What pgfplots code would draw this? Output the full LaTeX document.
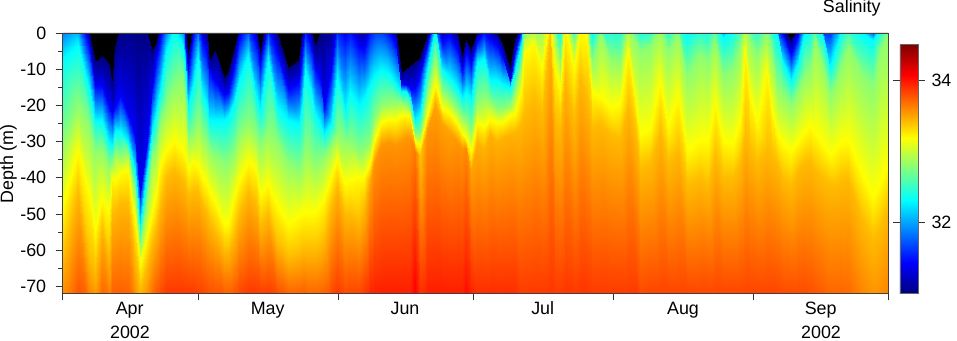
\documentclass[border=0pt]{standalone}
\usepackage{pgfplots}
\usepackage{fontspec}
\setmainfont{Liberation Sans}
\pgfplotsset{compat=1.18}
\begin{document}
\begin{tikzpicture}[font=\fontsize{13.4}{15}\selectfont]
\path[use as bounding box] (0pt,0pt) rectangle (717.75pt,-255.75pt);

% data: each line is one day (x), then the depth (y) of seven salinity levels (z)
\begin{axis}[
    at={(46.875pt,-220.125pt)},
    anchor=south west,
    scale only axis,
    width=619.5pt,
    height=195.4pt,
    view={0}{90},
    xmin=0,xmax=183,
    ymin=-72,ymax=0,
    axis background/.style={fill=black},
    axis line style={black!75,line width=0.4pt},
    xtick={0,30,61,91,122,153,183},
    xticklabels={},
    ytick={0,-10,-20,-30,-40,-50,-60,-70},
    yticklabels={0,-10,-20,-30,-40,-50,-60,-70},
    minor y tick num=1,
    tick align=outside,
    tickpos=left,
    major tick length=5.2pt,
    minor tick length=3pt,
    tick style={black!80,line width=0.4pt},
    y tick label style={xshift=-3.5pt},
    colormap/jet,
    point meta min=31,
    point meta max=34.5,
    colorbar,
    colorbar style={
        at={([xshift=20.6pt]parent axis.south east)},
        anchor=south west,
        width=13.5pt,
        height=186.75pt,
        scale only axis,
        ytick={32,34},
        yticklabels={32,34},
        major tick length=5.2pt,
        tick align=outside,
        y tick label style={xshift=1.5pt},
        tick style={black!80,line width=0.4pt},
        axis line style={black!60,line width=0.4pt},
    },
]
\addplot3[surf,shader=interp,mesh/rows=7,mesh/ordering=y varies] coordinates {
(0,12,31)(0,8,31.4)(0,-7,32.3)(0,-30,32.8)(0,-48,33.2)(0,-62,33.42)(0,-90,33.9)
(3.5,12,31)(3.5,8,31.4)(3.5,-3,32.3)(3.5,-20,32.8)(3.5,-33,33.2)(3.5,-44,33.42)(3.5,-82,33.9)
(5.8,0,31)(5.8,-3,31.4)(5.8,-15,32.3)(5.8,-26,32.8)(5.8,-45,33.2)(5.8,-62,33.42)(5.8,-88,33.9)
(7.2,-8,31)(7.2,-14,31.4)(7.2,-24,32.3)(7.2,-33,32.8)(7.2,-55,33.2)(7.2,-66,33.42)(7.2,-90,33.9)
(8.7,-6.5,31)(8.7,-14,31.4)(8.7,-24,32.3)(8.7,-32,32.8)(8.7,-46,33.2)(8.7,-54,33.42)(8.7,-84,33.9)
(10.2,-8.7,31)(10.2,-20,31.4)(10.2,-30,32.3)(10.2,-37,32.8)(10.2,-50,33.2)(10.2,-62,33.42)(10.2,-86,33.9)
(10.9,-15,31)(10.9,-22,31.4)(10.9,-31,32.3)(10.9,-36,32.8)(10.9,-40,33.2)(10.9,-50,33.42)(10.9,-84,33.9)
(11.7,-4,31)(11.7,-20,31.4)(11.7,-27,32.3)(11.7,-33,32.8)(11.7,-41,33.2)(11.7,-49,33.42)(11.7,-84,33.9)
(12.8,1,31)(12.8,-17,31.4)(12.8,-27,32.3)(12.8,-34,32.8)(12.8,-39,33.2)(12.8,-47,33.42)(12.8,-84,33.9)
(14.6,3,31)(14.6,-22,31.4)(14.6,-30,32.3)(14.6,-33,32.8)(14.6,-38,33.2)(14.6,-47,33.42)(14.6,-86,33.9)
(16,2,31)(16,-28,31.4)(16,-38,32.3)(16,-44,32.8)(16,-52,33.2)(16,-62,33.42)(16,-95,33.9)
(17.2,1,31)(17.2,-44,31.4)(17.2,-53,32.3)(17.2,-59,32.8)(17.2,-64,33.2)(17.2,-71,33.42)(17.2,-105,33.9)
(18.7,0,31)(18.7,-30,31.4)(18.7,-38,32.3)(18.7,-46,32.8)(18.7,-56,33.2)(18.7,-64,33.42)(18.7,-92,33.9)
(19.8,-5,31)(19.8,-15,31.4)(19.8,-27,32.3)(19.8,-34,32.8)(19.8,-50,33.2)(19.8,-58,33.42)(19.8,-84,33.9)
(20.8,-3,31)(20.8,-7,31.4)(20.8,-22,32.3)(20.8,-32,32.8)(20.8,-45,33.2)(20.8,-54,33.42)(20.8,-80,33.9)
(21.6,2,31)(21.6,-1,31.4)(21.6,-16,32.3)(21.6,-25,32.8)(21.6,-37,33.2)(21.6,-48,33.42)(21.6,-78,33.9)
(23,10,31)(23,6,31.4)(23,-5,32.3)(23,-20,32.8)(23,-33,33.2)(23,-40,33.42)(23,-74,33.9)
(24.6,20,31)(24.6,14,31.4)(24.6,1,32.3)(24.6,-15,32.8)(24.6,-30,33.2)(24.6,-38,33.42)(24.6,-74,33.9)
(26.8,12,31)(26.8,6,31.4)(26.8,-4,32.3)(26.8,-13,32.8)(26.8,-33,33.2)(26.8,-41,33.42)(26.8,-74,33.9)
(27.2,2,31)(27.2,-1,31.4)(27.2,-8,32.3)(27.2,-18,32.8)(27.2,-34,33.2)(27.2,-42,33.42)(27.2,-74,33.9)
(27.9,-7,31)(27.9,-10,31.4)(27.9,-20,32.3)(27.9,-29,32.8)(27.9,-38,33.2)(27.9,-45,33.42)(27.9,-74,33.9)
(28.9,2,31)(28.9,0,31.4)(28.9,-14,32.3)(28.9,-28,32.8)(28.9,-36,33.2)(28.9,-44,33.42)(28.9,-74,33.9)
(30.1,10,31)(30.1,6,31.4)(30.1,-6,32.3)(30.1,-24,32.8)(30.1,-37,33.2)(30.1,-44,33.42)(30.1,-76,33.9)
(31,2,31)(31,-1,31.4)(31,-16,32.3)(31,-28,32.8)(31,-40,33.2)(31,-47,33.42)(31,-76,33.9)
(32,0,31)(32,-5,31.4)(32,-20,32.3)(32,-30,32.8)(32,-42,33.2)(32,-50,33.42)(32,-78,33.9)
(32.5,-8,31)(32.5,-10,31.4)(32.5,-24,32.3)(32.5,-32,32.8)(32.5,-44,33.2)(32.5,-52,33.42)(32.5,-78,33.9)
(33.8,-5,31)(33.8,-13,31.4)(33.8,-24,32.3)(33.8,-34,32.8)(33.8,-47,33.2)(33.8,-55,33.42)(33.8,-78,33.9)
(35.7,-12.4,31)(35.7,-17,31.4)(35.7,-24,32.3)(35.7,-36,32.8)(35.7,-53,33.2)(35.7,-60,33.42)(35.7,-78,33.9)
(36.7,-11,31)(36.7,-16,31.4)(36.7,-23,32.3)(36.7,-36,32.8)(36.7,-53,33.2)(36.7,-60,33.42)(36.7,-78,33.9)
(37.9,-5,31)(37.9,-9,31.4)(37.9,-19,32.3)(37.9,-33,32.8)(37.9,-46,33.2)(37.9,-56,33.42)(37.9,-78,33.9)
(39,1,31)(39,-1,31.4)(39,-13,32.3)(39,-28,32.8)(39,-41,33.2)(39,-50,33.42)(39,-76,33.9)
(41.2,8,31)(41.2,4,31.4)(41.2,-6,32.3)(41.2,-25,32.8)(41.2,-36,33.2)(41.2,-44,33.42)(41.2,-74,33.9)
(42.8,1,31)(42.8,-2,31.4)(42.8,-17,32.3)(42.8,-28,32.8)(42.8,-38,33.2)(42.8,-47,33.42)(42.8,-74,33.9)
(43.8,-6,31)(43.8,-8,31.4)(43.8,-21,32.3)(43.8,-31,32.8)(43.8,-45,33.2)(43.8,-53,33.42)(43.8,-74,33.9)
(45.6,7,31)(45.6,3,31.4)(45.6,-7,32.3)(45.6,-27,32.8)(45.6,-42,33.2)(45.6,-50,33.42)(45.6,-74,33.9)
(47.5,0,31)(47.5,-5,31.4)(47.5,-20,32.3)(47.5,-30,32.8)(47.5,-48,33.2)(47.5,-58,33.42)(47.5,-76,33.9)
(50,-9.7,31)(50,-15,31.4)(50,-24,32.3)(50,-36,32.8)(50,-53,33.2)(50,-62,33.42)(50,-78,33.9)
(52.3,-7.5,31)(52.3,-13,31.4)(52.3,-25,32.3)(52.3,-38,32.8)(52.3,-51,33.2)(52.3,-61,33.42)(52.3,-78,33.9)
(53,0,31)(53,-5,31.4)(53,-20,32.3)(53,-36,32.8)(53,-50,33.2)(53,-60,33.42)(53,-78,33.9)
(53.8,6,31)(53.8,2,31.4)(53.8,-10,32.3)(53.8,-32,32.8)(53.8,-50,33.2)(53.8,-60,33.42)(53.8,-78,33.9)
(55,1,31)(55,-3,31.4)(55,-16,32.3)(55,-34,32.8)(55,-50,33.2)(55,-60,33.42)(55,-80,33.9)
(56,-4,31)(56,-9,31.4)(56,-22,32.3)(56,-36,32.8)(56,-50,33.2)(56,-60,33.42)(56,-80,33.9)
(57,0,31)(57,-12,31.4)(57,-25,32.3)(57,-35,32.8)(57,-48,33.2)(57,-59,33.42)(57,-80,33.9)
(58,1,31)(58,-20,31.4)(58,-28,32.3)(58,-34,32.8)(58,-46,33.2)(58,-57,33.42)(58,-80,33.9)
(59.5,2,31)(59.5,-10,31.4)(59.5,-25,32.3)(59.5,-31,32.8)(59.5,-40,33.2)(59.5,-48,33.42)(59.5,-78,33.9)
(60.9,8,31)(60.9,4,31.4)(60.9,-12,32.3)(60.9,-28,32.8)(60.9,-35,33.2)(60.9,-42,33.42)(60.9,-74,33.9)
(62.5,3,31)(62.5,0,31.4)(62.5,-21,32.3)(62.5,-30,32.8)(62.5,-42,33.2)(62.5,-50,33.42)(62.5,-78,33.9)
(63.8,6,31)(63.8,2,31.4)(63.8,-16,32.3)(63.8,-30,32.8)(63.8,-41,33.2)(63.8,-50,33.42)(63.8,-76,33.9)
(65.6,2,31)(65.6,-3,31.4)(65.6,-20,32.3)(65.6,-33,32.8)(65.6,-40,33.2)(65.6,-52,33.42)(65.6,-76,33.9)
(66.8,2,31)(66.8,-4,31.4)(66.8,-18,32.3)(66.8,-32,32.8)(66.8,-40,33.2)(66.8,-48,33.42)(66.8,-76,33.95)
(68.2,6,31)(68.2,2,31.4)(68.2,-14,32.3)(68.2,-30,32.8)(68.2,-36,33.2)(68.2,-41,33.5)(68.2,-76,34)
(69,8,31)(69,4,31.4)(69,-12,32.3)(69,-24,32.8)(69,-30,33.2)(69,-36,33.55)(69,-76,34)
(70.5,8,31)(70.5,4,31.4)(70.5,-10,32.3)(70.5,-20,32.8)(70.5,-25,33.2)(70.5,-31,33.55)(70.5,-76,34)
(72.3,4,31)(72.3,1,31.4)(72.3,-11,32.3)(72.3,-19,32.8)(72.3,-24,33.2)(72.3,-30,33.55)(72.3,-76,34)
(73.8,0,31)(73.8,-3,31.4)(73.8,-14,32.3)(73.8,-19,32.8)(73.8,-24,33.2)(73.8,-31,33.55)(73.8,-76,34)
(74.9,-11,31)(74.9,-14,31.4)(74.9,-16,32.3)(74.9,-19,32.8)(74.9,-23,33.2)(74.9,-30,33.55)(74.9,-76,34)
(76,-10,31)(76,-14,31.4)(76,-16,32.3)(76,-20,32.8)(76,-23,33.2)(76,-29,33.55)(76,-76,34)
(77.1,-9,31)(77.1,-15,31.4)(77.1,-18,32.3)(77.1,-21,32.8)(77.1,-23,33.2)(77.1,-29,33.55)(77.1,-76,34)
(78.2,-8,31)(78.2,-15,31.4)(78.2,-24,32.3)(78.2,-28,32.8)(78.2,-30,33.2)(78.2,-33,33.65)(78.2,-74,34.1)
(79.3,-7,31)(79.3,-11,31.4)(79.3,-22,32.3)(79.3,-28,32.8)(79.3,-31,33.2)(79.3,-34,33.4)(79.3,-76,33.95)
(80.8,-1,31)(80.8,-3,31.4)(80.8,-10,32.3)(80.8,-17,32.8)(80.8,-23,33.2)(80.8,-27,33.55)(80.8,-76,34)
(82.6,8,31)(82.6,5,31.4)(82.6,1,32.3)(82.6,-7,32.8)(82.6,-14,33.2)(82.6,-20,33.5)(82.6,-76,34)
(84.1,1,31)(84.1,-2,31.4)(84.1,-10,32.3)(84.1,-16,32.8)(84.1,-21,33.2)(84.1,-25,33.5)(84.1,-76,34)
(85.6,3,31)(85.6,0,31.4)(85.6,-12,32.3)(85.6,-18,32.8)(85.6,-22,33.2)(85.6,-27,33.5)(85.6,-76,34)
(87.4,0,31)(87.4,-4,31.4)(87.4,-15,32.3)(87.4,-21,32.8)(87.4,-25,33.2)(87.4,-30,33.55)(87.4,-76,34)
(88.5,-7,31)(88.5,-10,31.4)(88.5,-18,32.3)(88.5,-23,32.8)(88.5,-28,33.2)(88.5,-32,33.55)(88.5,-76,34)
(89.4,-2,31)(89.4,-5,31.4)(89.4,-16,32.3)(89.4,-24,32.8)(89.4,-29,33.2)(89.4,-32,33.6)(89.4,-74,34.05)
(90.4,-5,31)(90.4,-8,31.4)(90.4,-18,32.3)(90.4,-27,32.8)(90.4,-33,33.2)(90.4,-38,33.5)(90.4,-76,34)
(91.9,0,31)(91.9,-2,31.4)(91.9,-8,32.3)(91.9,-19,32.8)(91.9,-25,33.2)(91.9,-30,33.45)(91.9,-76,33.95)
(93.3,4,31)(93.3,1,31.4)(93.3,-7,32.3)(93.3,-18,32.8)(93.3,-26,33.2)(93.3,-32,33.45)(93.3,-76,33.95)
(94.8,1,31)(94.8,-1,31.4)(94.8,-13,32.3)(94.8,-19,32.8)(94.8,-24,33.2)(94.8,-28,33.45)(94.8,-76,33.95)
(96.3,0,31)(96.3,-3,31.4)(96.3,-13,32.3)(96.3,-21,32.8)(96.3,-25,33.2)(96.3,-30,33.45)(96.3,-76,33.95)
(97.4,-3,31)(97.4,-6,31.4)(97.4,-14,32.3)(97.4,-21,32.8)(97.4,-25,33.2)(97.4,-29,33.45)(97.4,-76,33.95)
(99.1,-10,31)(99.1,-13,31.4)(99.1,-15,32.3)(99.1,-20,32.8)(99.1,-23,33.2)(99.1,-28,33.45)(99.1,-76,33.95)
(100.3,-2,31)(100.3,-5,31.4)(100.3,-10,32.3)(100.3,-16,32.8)(100.3,-22,33.2)(100.3,-28,33.45)(100.3,-76,33.95)
(101.5,2,31)(101.5,1,31.4)(101.5,-3,32.3)(101.5,-9,32.8)(101.5,-16,33.2)(101.5,-25,33.42)(101.5,-76,33.9)
(102.2,10,31)(102.2,8,31.4)(102.2,5,32.3)(102.2,0,32.8)(102.2,-6,33.2)(102.2,-22,33.42)(102.2,-76,33.9)
(104.4,12,31)(104.4,10,31.4)(104.4,7,32.3)(104.4,2,32.8)(104.4,-3,33.2)(104.4,-18,33.42)(104.4,-76,33.9)
(106.2,10,31)(106.2,8,31.4)(106.2,6,32.3)(106.2,2,32.8)(106.2,-10,33.2)(106.2,-22,33.42)(106.2,-76,33.9)
(108.1,18,31)(108.1,16,31.4)(108.1,14,32.3)(108.1,9,32.8)(108.1,5,33.2)(108.1,-1,33.42)(108.1,-74,33.9)
(109.2,10,31)(109.2,8,31.4)(109.2,5,32.3)(109.2,0,32.8)(109.2,-10,33.2)(109.2,-24,33.42)(109.2,-76,33.9)
(110.3,6,31)(110.3,4,31.4)(110.3,1,32.3)(110.3,-8,32.8)(110.3,-16,33.2)(110.3,-26,33.42)(110.3,-76,33.9)
(111.4,14,31)(111.4,12,31.4)(111.4,10,32.3)(111.4,8,32.8)(111.4,2,33.2)(111.4,-12,33.42)(111.4,-74,33.9)
(113.3,8,31)(113.3,6,31.4)(113.3,3,32.3)(113.3,-3,32.8)(113.3,-10,33.2)(113.3,-24,33.42)(113.3,-76,33.9)
(114.7,12,31)(114.7,10,31.4)(114.7,8,32.3)(114.7,4,32.8)(114.7,0,33.2)(114.7,-12,33.42)(114.7,-74,33.9)
(116.2,12,31)(116.2,10,31.4)(116.2,7,32.3)(116.2,3,32.8)(116.2,-1,33.2)(116.2,-18,33.42)(116.2,-74,33.9)
(117.3,6,31)(117.3,4,31.4)(117.3,0,32.3)(117.3,-8,32.8)(117.3,-17,33.2)(117.3,-26,33.42)(117.3,-76,33.9)
(119.2,8,31)(119.2,6,31.4)(119.2,3,32.3)(119.2,0,32.8)(119.2,-18,33.2)(119.2,-25,33.42)(119.2,-76,33.9)
(121.4,8,31)(121.4,6,31.4)(121.4,3,32.3)(121.4,-7,32.8)(121.4,-21,33.2)(121.4,-28,33.42)(121.4,-76,33.9)
(123.6,8,31)(123.6,6,31.4)(123.6,3,32.3)(123.6,-8,32.8)(123.6,-20,33.2)(123.6,-29,33.42)(123.6,-76,33.9)
(125.4,10,31)(125.4,8,31.4)(125.4,5,32.3)(125.4,3,32.8)(125.4,-5,33.2)(125.4,-20,33.42)(125.4,-76,33.9)
(127.3,8,31)(127.3,6,31.4)(127.3,3,32.3)(127.3,-3,32.8)(127.3,-22,33.2)(127.3,-30,33.42)(127.3,-76,33.9)
(128,7,31)(128,4,31.4)(128,1,32.3)(128,-5,32.8)(128,-28.5,33.2)(128,-37,33.42)(128,-76,33.85)
(130.2,8,31)(130.2,5,31.4)(130.2,2,32.3)(130.2,-4,32.8)(130.2,-27,33.2)(130.2,-36,33.42)(130.2,-74,33.85)
(132.4,14,31)(132.4,11,31.4)(132.4,8,32.3)(132.4,2,32.8)(132.4,-14,33.2)(132.4,-27,33.42)(132.4,-74,33.85)
(134.2,8,31)(134.2,5,31.4)(134.2,2,32.3)(134.2,-5,32.8)(134.2,-26,33.2)(134.2,-36,33.42)(134.2,-74,33.85)
(136.4,11,31)(136.4,8,31.4)(136.4,5,32.3)(136.4,0,32.8)(136.4,-18,33.2)(136.4,-32,33.42)(136.4,-74,33.85)
(138.3,6,31)(138.3,3,31.4)(138.3,0,32.3)(138.3,-12,32.8)(138.3,-33,33.2)(138.3,-42,33.42)(138.3,-74,33.85)
(141.3,9,31)(141.3,6,31.4)(141.3,3,32.3)(141.3,-6,32.8)(141.3,-30,33.2)(141.3,-40,33.42)(141.3,-74,33.85)
(143,8,31)(143,5,31.4)(143,2,32.3)(143,-8,32.8)(143,-30,33.2)(143,-42,33.42)(143,-74,33.85)
(144.6,11,31)(144.6,8,31.4)(144.6,5,32.3)(144.6,-2,32.8)(144.6,-20,33.2)(144.6,-34,33.42)(144.6,-74,33.85)
(146.4,5,31)(146.4,2,31.4)(146.4,-1,32.3)(146.4,-12,32.8)(146.4,-30,33.2)(146.4,-40,33.42)(146.4,-74,33.85)
(148.6,8,31)(148.6,5,31.4)(148.6,2,32.3)(148.6,-10,32.8)(148.6,-31,33.2)(148.6,-40,33.42)(148.6,-74,33.85)
(150.1,10,31)(150.1,7,31.4)(150.1,4,32.3)(150.1,-4,32.8)(150.1,-25,33.2)(150.1,-36,33.42)(150.1,-74,33.85)
(151.2,16,31)(151.2,13,31.4)(151.2,10,32.3)(151.2,4,32.8)(151.2,-5,33.2)(151.2,-28,33.42)(151.2,-74,33.85)
(152.3,11,31)(152.3,8,31.4)(152.3,5,32.3)(152.3,-2,32.8)(152.3,-18,33.2)(152.3,-32,33.42)(152.3,-74,33.85)
(153.8,9,31)(153.8,6,31.4)(153.8,3,32.3)(153.8,-6,32.8)(153.8,-25,33.2)(153.8,-36,33.42)(153.8,-74,33.85)
(156,14,31)(156,11,31.4)(156,8,32.3)(156,0,32.8)(156,-11,33.2)(156,-32,33.42)(156,-74,33.85)
(157.1,10,31)(157.1,7,31.4)(157.1,4,32.3)(157.1,-6,32.8)(157.1,-22,33.2)(157.1,-34,33.42)(157.1,-74,33.85)
(158.2,5,31)(158.2,3,31.4)(158.2,0,32.3)(158.2,-15,32.8)(158.2,-28,33.2)(158.2,-36,33.42)(158.2,-74,33.85)
(159.7,1,31)(159.7,0,31.4)(159.7,-8,32.3)(159.7,-17,32.8)(159.7,-31,33.2)(159.7,-40,33.42)(159.7,-76,33.85)
(161.4,-2,31)(161.4,-5.5,31.4)(161.4,-13,32.3)(161.4,-20,32.8)(161.4,-33,33.2)(161.4,-42,33.42)(161.4,-76,33.85)
(163,1,31)(163,0,31.4)(163,-8,32.3)(163,-16,32.8)(163,-30,33.2)(163,-38,33.42)(163,-76,33.85)
(164.2,4,31)(164.2,3,31.4)(164.2,0,32.3)(164.2,-12,32.8)(164.2,-28,33.2)(164.2,-36,33.42)(164.2,-76,33.85)
(165.6,7,31)(165.6,4,31.4)(165.6,1,32.3)(165.6,-10,32.8)(165.6,-26,33.2)(165.6,-35,33.42)(165.6,-78,33.85)
(166.7,9,31)(166.7,6,31.4)(166.7,3,32.3)(166.7,-2,32.8)(166.7,-28,33.2)(166.7,-38,33.42)(166.7,-80,33.85)
(168.2,6,31)(168.2,3,31.4)(168.2,0,32.3)(168.2,-8,32.8)(168.2,-31,33.2)(168.2,-40,33.42)(168.2,-82,33.85)
(170.1,5,31)(170.1,3,31.4)(170.1,-9,32.3)(170.1,-17,32.8)(170.1,-34,33.2)(170.1,-42,33.42)(170.1,-86,33.85)
(171.5,8,31)(171.5,6,31.4)(171.5,-3,32.3)(171.5,-13,32.8)(171.5,-32,33.2)(171.5,-42,33.42)(171.5,-86,33.85)
(172.3,6,31)(172.3,3,31.4)(172.3,0,32.3)(172.3,-10,32.8)(172.3,-31,33.2)(172.3,-41,33.42)(172.3,-86,33.85)
(174.1,10,31)(174.1,7,31.4)(174.1,4,32.3)(174.1,-4,32.8)(174.1,-30,33.2)(174.1,-40,33.42)(174.1,-88,33.85)
(177.4,6,31)(177.4,3,31.4)(177.4,0,32.3)(177.4,-12,32.8)(177.4,-40,33.2)(177.4,-52,33.42)(177.4,-100,33.85)
(179.6,4,31)(179.6,1,31.4)(179.6,-2,32.3)(179.6,-15,32.8)(179.6,-46,33.2)(179.6,-57,33.42)(179.6,-105,33.85)
(181.1,8,31)(181.1,5,31.4)(181.1,2,32.3)(181.1,-5,32.8)(181.1,-42,33.2)(181.1,-54,33.42)(181.1,-105,33.85)
(183,11,31)(183,8,31.4)(183,5,32.3)(183,0,32.8)(183,-37,33.2)(183,-48,33.42)(183,-100,33.85)
};
\end{axis}

\node[anchor=base] at (97.3pt,-236.25pt) {Apr};
\node[anchor=base] at (200.8pt,-236.25pt) {May};
\node[anchor=base] at (303.75pt,-236.25pt) {Jun};
\node[anchor=base] at (407pt,-236.25pt) {Jul};
\node[anchor=base] at (512.25pt,-236.25pt) {Aug};
\node[anchor=base] at (615.5pt,-236.25pt) {Sep};
\node[anchor=base] at (97.5pt,-254.25pt) {2002};
\node[anchor=base] at (615.75pt,-254.25pt) {2002};
\node[anchor=base] at (638.8pt,-9.75pt) {Salinity};
\node[anchor=base,rotate=90] at (9.75pt,-123pt) {Depth (m)};
\end{tikzpicture}
\end{document}
